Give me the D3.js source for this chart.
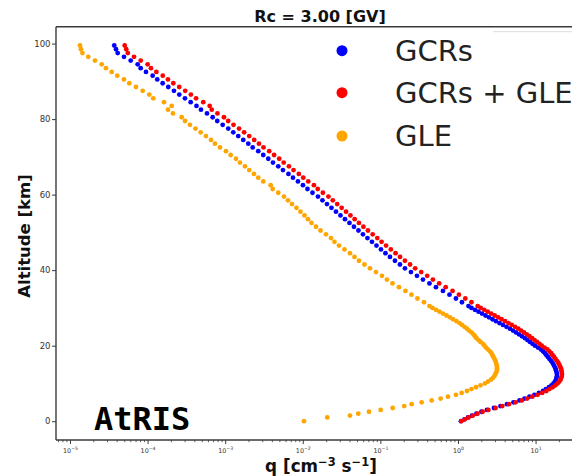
<!DOCTYPE html>
<html><head><meta charset="utf-8">
<script src="https://cdn.jsdelivr.net/npm/d3@7/dist/d3.min.js"></script>
<style>body{margin:0;background:#fff} svg{display:block}</style>
</head><body><svg id="c" width="572" height="476"></svg>
<script>
// Altitude grid [km]
const altitudes = [0,0.5,1,1.5,2,2.5,3,3.5,4,4.5,5,5.5,6,6.5,7,7.5,8,8.5,9,9.5,10,10.5,11,11.5,12,12.5,13,13.5,14,14.5,15,15.5,16,16.5,17,17.5,18,18.5,19,19.5,20,20.5,21,21.5,22,22.5,23,23.5,24,24.5,25,25.5,26,26.5,27,27.5,28,28.5,29,29.5,30,
30.5,31.5,32.5,33.5,34.5,35.5,36.5,37.5,38.5,39.5,40.5,41.5,42.5,43.5,44.5,45.5,46.5,47.5,48.5,49.5,50.5,51.5,52.5,53.5,54.5,55.5,56.5,57.5,58.5,59.5,60.5,61.5,62.5,63.5,64.5,65.5,66.5,67.5,68.5,69.5,70.5,71.5,72.5,73.5,74.5,75.5,76.5,77.5,78.5,79.5,80.5,81.5,82.5,83.5,84.5,85.5,86.5,87.5,88.5,89.5,90.5,91.5,92.5,93.5,94.5,95.5,96.5,97.5,98.5,99.5];

// q [cm^-3 s^-1] - GCRs
const gcrs = [1.093,1.213,1.346,1.515,1.731,2.008,2.364,2.91,3.529,4.28,5.19,6.202,7.194,8.345,9.68,11.06,12.46,13.61,14.88,16.03,17.01,17.78,18.32,18.59,18.87,18.87,18.59,18.32,18.05,17.52,17.01,16.51,15.79,15.11,14.45,13.82,13.22,12.46,11.74,10.74,9.824,9.123,8.47,7.864,7.30,6.68,6.111,5.589,5.114,4.679,4.217,3.801,3.426,3.088,2.784,2.509,2.262,2.038,1.838,1.656,1.493,
1.366,1.126,0.9424,0.7773,0.6408,0.5206,0.4293,0.354,0.2962,0.2479,0.2075,0.1788,0.1542,0.1329,0.1163,0.1018,0.08909,0.07796,0.0682,0.05968,0.05222,0.04568,0.03998,0.03498,0.0306,0.02678,0.02343,0.02051,0.01794,0.0157,0.01334,0.0115,0.01006,0.008672,0.007478,0.006543,0.005557,0.004834,0.00413,0.003593,0.003097,0.00267,0.002262,0.001985,0.001711,0.001475,0.001272,0.001096,9.29e-4,7.91e-4,6.90e-4,5.83e-4,4.877e-4,4.268e-4,3.593e-4,3.034e-4,2.562e-4,2.189e-4,1.849e-4,1.565e-4,1.334e-4,1.163e-4,9.54e-5,8.15e-5,7.46e-5,6.06e-5,4.97e-5,4.12e-5,3.92e-5,3.72e-5];

// q - GCRs + GLE
const gcrsGle = [1.103,1.225,1.367,1.556,1.783,2.079,2.465,3.054,3.732,4.533,5.531,6.66,7.793,9.088,10.62,12.18,13.77,15.10,16.59,17.98,19.24,20.22,20.98,21.42,21.82,21.91,21.72,21.50,21.23,20.70,20.14,19.60,18.83,18.06,17.32,16.60,15.92,15.05,14.18,13.04,12.02,11.22,10.42,9.702,9.031,8.336,7.695,7.082,6.50,5.985,5.43,4.927,4.471,4.045,3.646,3.298,2.973,2.679,2.416,2.177,1.962,
1.795,1.491,1.243,1.029,0.8514,0.6942,0.5725,0.4756,0.4011,0.3357,0.281,0.2412,0.2072,0.1793,0.1569,0.1363,0.1184,0.1036,0.09128,0.07959,0.06913,0.06048,0.05293,0.04665,0.04112,0.03612,0.03173,0.02777,0.02439,0.02142,0.01817,0.01559,0.01392,0.01177,0.01015,0.008893,0.007602,0.006634,0.005681,0.004971,0.004274,0.003694,0.003119,0.002724,0.002367,0.002041,0.001755,0.00151,0.001281,0.001094,9.651e-4,7.955e-4,6.709e-4,6.313e-4,5.22e-4,4.218e-4,3.614e-4,3.054e-4,2.558e-4,2.146e-4,1.831e-4,1.57e-4,1.299e-4,1.106e-4,1.002e-4,8.16e-5,6.69e-5,5.57e-5,5.31e-5,5.07e-5];

// q - GLE (null = no value at that altitude)
const gle = [0.01036,null,0.02069,0.04057,0.0519,0.07131,0.1009,0.1441,0.2032,0.2531,0.3406,0.4583,0.5986,0.743,0.9424,1.116,1.306,1.493,1.706,1.95,2.228,2.436,2.662,2.825,2.954,3.042,3.134,3.181,3.181,3.181,3.134,3.088,3.042,2.954,2.868,2.784,2.703,2.585,2.436,2.295,2.195,2.10,1.95,1.838,1.731,1.656,1.584,1.493,1.386,1.306,1.213,1.126,1.045,0.9565,0.8622,0.7886,0.711,0.6408,0.5776,0.5206,0.4693,
0.4293,0.3646,0.3007,0.2516,0.2106,0.1736,0.1432,0.1216,0.1049,0.08778,0.07345,0.06239,0.053,0.04636,0.04057,0.03447,0.02928,0.02562,0.02308,0.01991,0.01691,0.0148,0.01295,0.01167,0.01052,0.009342,0.008295,0.007258,0.006447,0.005724,0.004834,0.004093,0.003858,0.003097,0.00267,0.00235,0.002045,0.0018,0.001551,0.001378,0.001177,0.001024,8.57e-4,7.39e-4,6.561e-4,5.657e-4,4.834e-4,4.143e-4,3.519e-4,3.034e-4,2.751e-4,2.125e-4,1.832e-4,2.045e-4,1.627e-4,1.184e-4,1.052e-4,8.648e-5,7.089e-5,5.811e-5,4.965e-5,4.07e-5,3.447e-5,2.91e-5,2.562e-5,2.10e-5,1.721e-5,1.449e-5,1.386e-5,1.346e-5];

const seriesNames = ["GCRs", "GCRs + GLE", "GLE"];
const seriesColors = ["#0000ff", "#ff0000", "#ffa500"];
const yTicks = [0, 20, 40, 60, 80, 100];
const xTickExps = [-5, -4, -3, -2, -1, 0, 1];
const titleText = "Rc = 3.00 [GV]";

const svg = d3.select("#c");
const L = 56, R = 586, T = 26.7, B = 440;

const x = d3.scaleLog().domain([Math.pow(10, -5.18), Math.pow(10, 1.65)]).range([L, R]);
const y = d3.scaleLinear().domain([-4.975, 104.475]).range([B, T]);

svg.append("defs").append("clipPath").attr("id", "clip")
  .append("rect").attr("x", L).attr("y", T).attr("width", R - L).attr("height", B - T);

// points
const seriesData = [gcrs, gcrsGle, gle];
const gPts = svg.append("g").attr("clip-path", "url(#clip)");
seriesData.forEach((arr, i) => {
  const pts = altitudes.map((a, k) => ({a, q: arr[k]})).filter(d => d.q != null && d.q > 0);
  gPts.append("g").selectAll("circle").data(pts).join("circle")
    .attr("cx", d => x(d.q)).attr("cy", d => y(d.a)).attr("r", 2.4)
    .attr("fill", seriesColors[i]);
});

// spines
const spine = "#3a3a3a";
svg.append("line").attr("x1", L).attr("x2", 572).attr("y1", T).attr("y2", T).attr("stroke", spine).attr("stroke-width", 1.4);
svg.append("line").attr("x1", L).attr("x2", L).attr("y1", T).attr("y2", B).attr("stroke", spine).attr("stroke-width", 1.4);
svg.append("line").attr("x1", L).attr("x2", 572).attr("y1", B).attr("y2", B).attr("stroke", spine).attr("stroke-width", 1.4);

// y axis
const yAxis = d3.axisLeft(y).tickValues(yTicks).tickSize(4).tickPadding(1.5);
const gy = svg.append("g").attr("transform", `translate(${L},0)`).call(yAxis);
gy.select(".domain").remove();
gy.selectAll("line").attr("stroke", spine);
gy.selectAll("text").attr("font-family", "DejaVu Sans").attr("font-size", 8.5).attr("fill", "#333");

// x axis: major and minor ticks
const [d0, d1] = x.domain();
const minors = [];
for (let e = -6; e <= 1; e++) for (let m = 2; m <= 9; m++) {
  const v = m * Math.pow(10, e);
  if (v >= d0 && v <= d1) minors.push(v);
}
const gxMinor = svg.append("g").attr("transform", `translate(0,${B})`)
  .call(d3.axisBottom(x).tickValues(minors).tickSize(2.2).tickFormat(""));
gxMinor.select(".domain").remove();
gxMinor.selectAll("line").attr("stroke", spine).attr("stroke-width", 0.8);

const majors = xTickExps.map(e => Math.pow(10, e));
const gx = svg.append("g").attr("transform", `translate(0,${B})`)
  .call(d3.axisBottom(x).tickValues(majors).tickSize(4).tickFormat(""));
gx.select(".domain").remove();
gx.selectAll("line").attr("stroke", spine);
gx.selectAll(".tick").append("text")
  .attr("y", 12.5).attr("text-anchor", "middle")
  .attr("font-family", "DejaVu Sans").attr("font-size", 6.4).attr("fill", "#333")
  .each(function(d, i) {
    const t = d3.select(this);
    t.append("tspan").text("10");
    t.append("tspan").attr("dy", -2.8).attr("font-size", 4.6).text(xTickExps[i] < 0 ? "\u2212" + Math.abs(xTickExps[i]) : String(xTickExps[i]));
  });

// axis labels
const xl = svg.append("text").attr("x", 321).attr("y", 472).attr("text-anchor", "middle")
  .attr("font-family", "DejaVu Sans").attr("font-weight", "bold").attr("font-size", 16.8).attr("fill", "#111");
xl.append("tspan").text("q [cm");
xl.append("tspan").attr("dy", -6).attr("font-size", 11.5).text("\u22123");
xl.append("tspan").attr("dy", 6).text(" s");
xl.append("tspan").attr("dy", -6).attr("font-size", 11.5).text("\u22121");
xl.append("tspan").attr("dy", 6).text("]");

svg.append("text").attr("transform", "translate(30,236) rotate(-90)").attr("text-anchor", "middle")
  .attr("font-family", "DejaVu Sans").attr("font-weight", "bold").attr("font-size", 16.5).attr("fill", "#111")
  .text("Altitude [km]");

// title
svg.append("text").attr("x", 320).attr("y", 22).attr("text-anchor", "middle")
  .attr("font-family", "DejaVu Sans").attr("font-weight", "bold").attr("font-size", 16).attr("fill", "#111")
  .text(titleText);

// legend
svg.append("line").attr("x1", 493).attr("x2", 572).attr("y1", 31.7).attr("y2", 31.7).attr("stroke", "#dddddd").attr("stroke-width", 1);
const legY = [50.7, 92.7, 136];
seriesNames.forEach((n, i) => {
  svg.append("circle").attr("cx", 342).attr("cy", legY[i]).attr("r", 5.5).attr("fill", seriesColors[i]);
  svg.append("text").attr("x", 395).attr("y", legY[i] + 10)
    .attr("font-family", "DejaVu Sans").attr("font-size", 29).attr("fill", "#222").text(n);
});

// AtRIS label
svg.append("text").attr("x", 94).attr("y", 430)
  .attr("font-family", "DejaVu Sans Mono").attr("font-weight", "bold").attr("font-size", 32).attr("fill", "#000")
  .text("AtRIS");
</script>
</body></html>
